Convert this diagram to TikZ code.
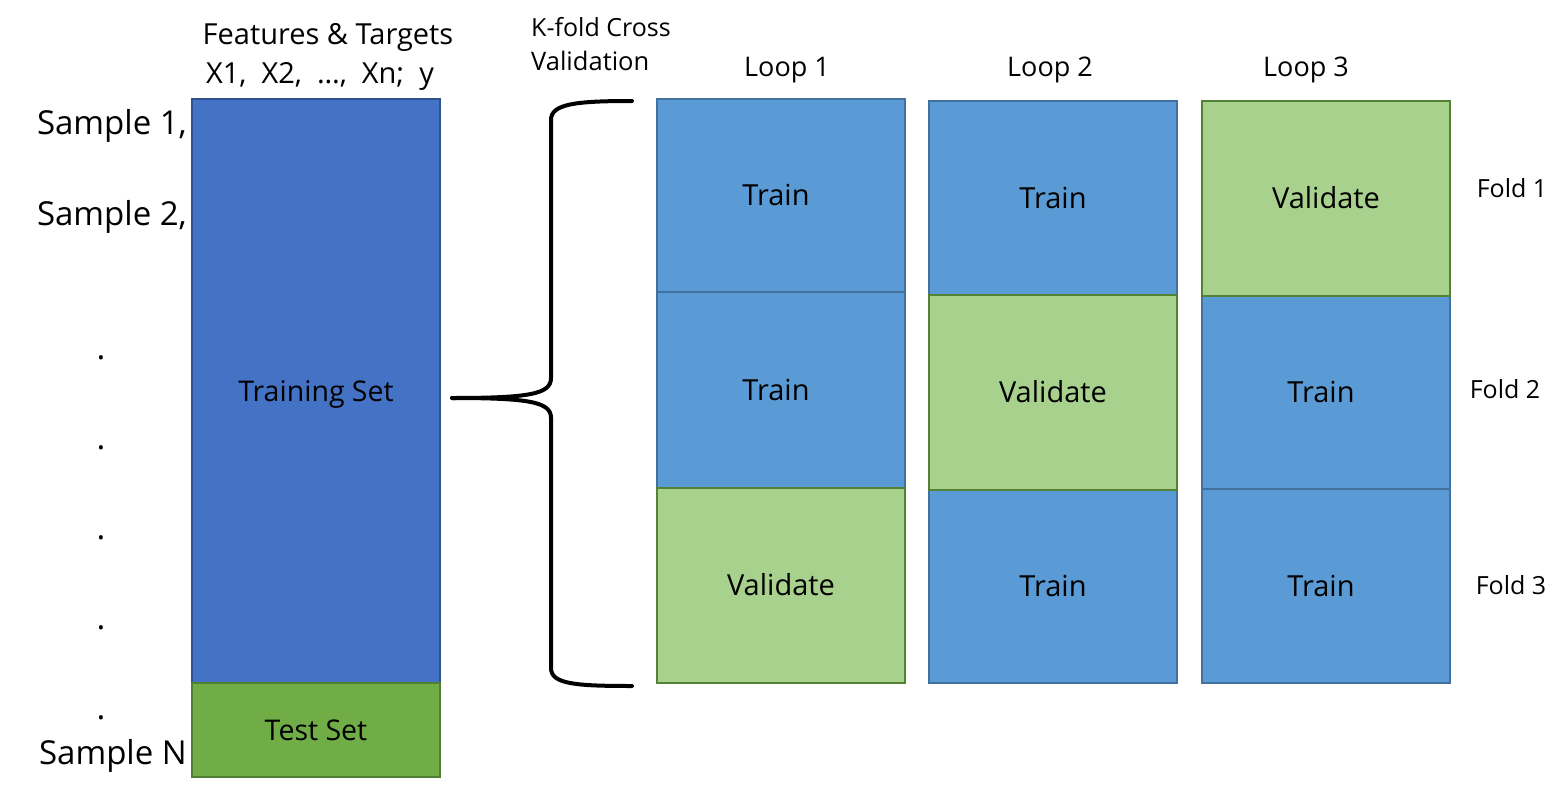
\documentclass[tikz,border=0pt]{standalone}
\usepackage{fontspec}
\setmainfont{Open Sans}
\definecolor{trainset}{HTML}{4472C4}
\definecolor{trainsetb}{HTML}{2F528F}
\definecolor{testset}{HTML}{70AD47}
\definecolor{testsetb}{HTML}{507E32}
\definecolor{trcell}{HTML}{5B9BD5}
\definecolor{trcellb}{HTML}{41719C}
\definecolor{vacell}{HTML}{A9D18E}
\definecolor{vacellb}{HTML}{548235}
\newcommand{\fs}[1]{\fontsize{#1}{#1}\selectfont}
\newcommand{\lft}{\hspace*{-10pt}}
\tikzset{
  cellbase/.style={rectangle, inner sep=0pt, outer sep=0pt, minimum width=248pt,
    font=\fs{29}, text height=20.7pt, text depth=0pt},
  traincell/.style={cellbase, fill=trcell, draw=trcellb, line width=1.5pt},
  valcell/.style={cellbase, fill=vacell, draw=vacellb, line width=2pt},
  lbl/.style={inner sep=0pt, anchor=base},
  lbll/.style={inner sep=0pt, anchor=base west},
  bracepath/.style={line width=4pt, line cap=round, line join=round}
}
\begin{document}
\begin{tikzpicture}[x=1pt, y=-1pt]
\useasboundingbox (0,0) rectangle (1560,797);
% left column
\node[rectangle, inner sep=0pt, minimum width=248pt, minimum height=584pt,
  fill=trainset, draw=trainsetb, line width=1.5pt,
  font=\fs{28.5}, text height=20.3pt, text depth=0pt] (trainset) at (316,391) {Training Set};
\node[rectangle, inner sep=0pt, minimum width=248pt, minimum height=94pt,
  fill=testset, draw=testsetb, line width=2pt,
  font=\fs{28.5}, text height=20.3pt, text depth=0pt] (testset) at (316,730) {Test Set};
\node[lbl, font=\fs{29}] (feat) at (328,45) {Features \& Targets};
\node[lbl, font=\fs{29}] (vars) at (320,84) {X1,\ \ X2,\ \ …,\ \ Xn;\ \ y};
\node[lbl, anchor=base east, font=\fs{33}] (s1) at (187,135) {Sample 1,};
\node[lbl, anchor=base east, font=\fs{33}] (s2) at (187,225) {Sample 2,};
\node[lbl, anchor=base east, font=\fs{33}] (sn) at (187,764) {Sample N};
\foreach \yy [count=\i] in {359,449,539,629,719}
  \node[lbl, font=\fs{33}] (dot\i) at (101,\yy) {.};
% K-fold label
\node[lbll, font=\fs{25}] (kf1) at (531,37) {K-fold Cross};
\node[lbll, font=\fs{25.5}] (kf2) at (531,71) {Validation};
% brace
\coordinate (btop) at (632,101);
\coordinate (btip) at (452,398);
\coordinate (bbot) at (632,686);
\draw[bracepath] (btop) .. controls (575,101) and (551,104) .. (551,120)
  -- (551,378) .. controls (551,394) and (530,398) .. (btip);
\draw[bracepath] (btip) .. controls (530,398) and (551,402) .. (551,418)
  -- (551,668) .. controls (551,684) and (575,686) .. (bbot);
% loop labels
\node[lbl, font=\fs{27}] (loop1) at (787,77) {Loop 1};
\node[lbl, font=\fs{27}] (loop2) at (1050,77) {Loop 2};
\node[lbl, font=\fs{27}] (loop3) at (1306,77) {Loop 3};
% train cells
\node[traincell, minimum height=193pt] (c11) at (781,195.5) {\lft Train};
\node[traincell, minimum height=196pt] (c12) at (781,390) {\lft Train};
\node[traincell, minimum height=194pt] (c21) at (1053,198) {Train};
\node[traincell, minimum height=193pt] (c23) at (1053,586.5) {Train};
\node[traincell, minimum height=193pt] (c32) at (1326,392.5) {\lft Train};
\node[traincell, minimum height=194pt] (c33) at (1326,586) {\lft Train};
% validate cells
\node[valcell, minimum height=195pt] (c13) at (781,585.5) {Validate};
\node[valcell, minimum height=195pt] (c22) at (1053,392.5) {Validate};
\node[valcell, minimum height=195pt] (c31) at (1326,198.5) {Validate};
% fold labels
\node[lbl, font=\fs{25}] (f1) at (1512,197) {Fold 1};
\node[lbl, font=\fs{25}] (f2) at (1505,398) {Fold 2};
\node[lbl, font=\fs{25}] (f3) at (1511,594) {Fold 3};
\end{tikzpicture}
\end{document}
